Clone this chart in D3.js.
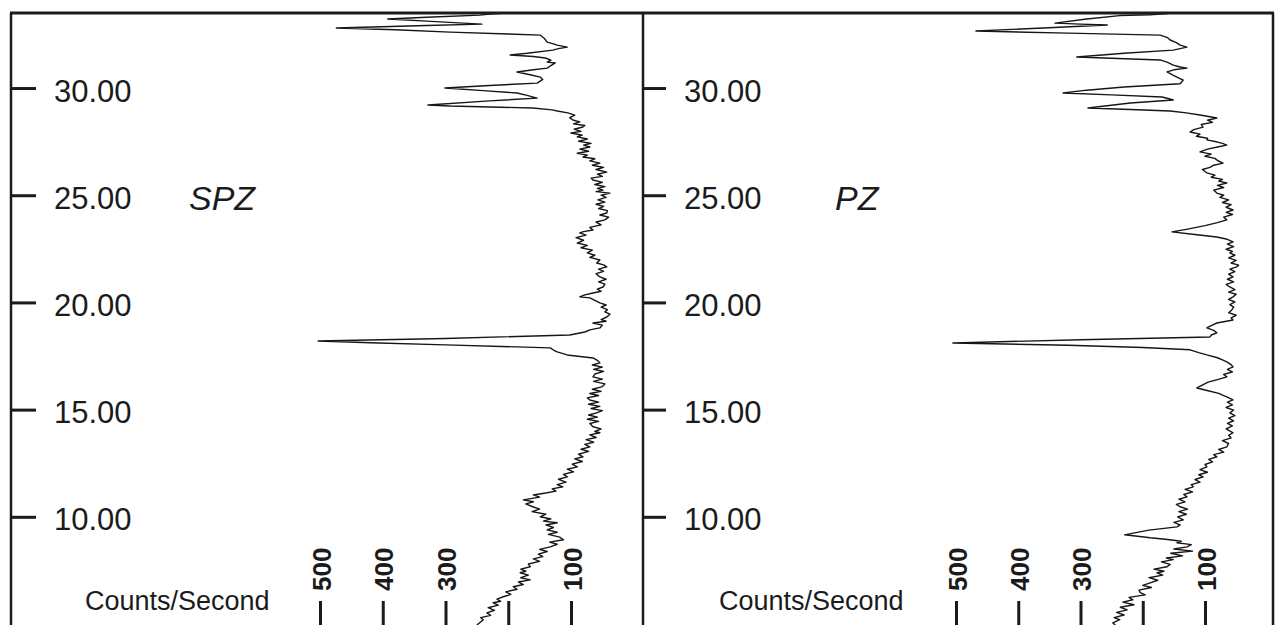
<!DOCTYPE html>
<html>
    <head>
        <meta charset="utf-8">
        <script type="text/javascript" src="https://d3js.org/d3.v7.min.js"></script>
        <style>
            html, body {
                margin: 0;
                padding: 0;
                background: #fff;
                font-family: "Liberation Sans", Arial, sans-serif;
            }
            svg text {
                fill: #1b1b1b;
            }
            svg .depth text {
                font-size: 31px;
            }
            svg .counts text {
                font-size: 26px;
                font-weight: bold;
            }
            svg .axis line {
                stroke: #1b1b1b;
                stroke-width: 3px;
            }
            svg .axis path.domain {
                display: none;
            }
            svg .trace {
                fill: none;
                stroke: #161616;
                stroke-width: 1.4px;
                stroke-linejoin: round;
            }
            svg .frame {
                stroke: #1b1b1b;
                stroke-width: 2.5px;
            }
        </style>
    </head>
    <body>
        <div id="chart"></div>

        <script>
            // tick labels
            var depthTicks = [10, 15, 20, 25, 30];
            var countTicks = [500, 400, 300, 200, 100];
            var countLabels = ["500", "400", "300", "", "100"];
            var panelNames = ["SPZ", "PZ"];
            var axisTitle = "Counts/Second";

            // SPZ log, depth (top to bottom) and counts/second
            var spzDepth = [33.50, 33.45, 33.40, 33.30, 33.22, 33.12, 32.98, 32.92, 32.80, 32.72, 32.61, 32.52, 32.47, 32.30,
                32.14, 32.06, 32.00, 31.91, 31.84, 31.77, 31.62, 31.54, 31.47, 31.40, 31.30, 31.21, 31.17, 31.05, 30.93,
                30.85, 30.75, 30.62, 30.51, 30.40, 30.23, 30.12, 30.00, 29.88, 29.77, 29.66, 29.53, 29.40, 29.21, 29.16,
                29.07, 28.98, 28.93, 28.84, 28.74, 28.62, 28.51, 28.42, 28.33, 28.25, 28.18, 28.08, 27.98, 27.90, 27.80,
                27.72, 27.62, 27.52, 27.42, 27.34, 27.25, 27.15, 27.05, 26.96, 26.87, 26.78, 26.70, 26.60, 26.50, 26.40,
                26.30, 26.20, 26.08, 25.98, 25.88, 25.80, 25.71, 25.60, 25.50, 25.40, 25.32, 25.24, 25.17, 25.10, 25.00,
                24.90, 24.78, 24.68, 24.58, 24.48, 24.38, 24.28, 24.17, 24.08, 23.98, 23.85, 23.75, 23.62, 23.50, 23.38,
                23.30, 23.24, 23.14, 23.02, 22.90, 22.77, 22.66, 22.55, 22.44, 22.31, 22.20, 22.10, 21.98, 21.84, 21.75,
                21.66, 21.55, 21.45, 21.34, 21.19, 21.08, 20.96, 20.85, 20.72, 20.62, 20.52, 20.44, 20.35, 20.26, 20.21,
                20.10, 19.98, 19.88, 19.78, 19.66, 19.56, 19.45, 19.32, 19.20, 19.12, 19.04, 18.94, 18.81, 18.72, 18.62,
                18.48, 18.32, 18.20, 18.12, 18.02, 17.88, 17.78, 17.69, 17.55, 17.41, 17.30, 17.18, 17.08, 16.98, 16.88,
                16.78, 16.66, 16.53, 16.42, 16.32, 16.20, 16.06, 15.95, 15.85, 15.75, 15.66, 15.55, 15.45, 15.35, 15.25,
                15.15, 15.05, 14.95, 14.85, 14.75, 14.65, 14.55, 14.45, 14.35, 14.20, 14.10, 13.98, 13.92, 13.82, 13.70,
                13.60, 13.48, 13.38, 13.26, 13.15, 13.05, 12.92, 12.80, 12.70, 12.58, 12.46, 12.33, 12.22, 12.10, 11.98,
                11.86, 11.75, 11.62, 11.50, 11.40, 11.30, 11.20, 11.12, 11.02, 10.92, 10.79, 10.70, 10.60, 10.47, 10.36,
                10.24, 10.12, 10.00, 9.90, 9.80, 9.72, 9.62, 9.50, 9.39, 9.28, 9.18, 9.05, 8.93, 8.82, 8.72, 8.60, 8.48,
                8.38, 8.26, 8.14, 8.04, 7.92, 7.80, 7.67, 7.56, 7.46, 7.39, 7.28, 7.16, 7.06, 6.96, 6.84, 6.74, 6.62, 6.50,
                6.38, 6.27, 6.16, 6.06, 5.99, 5.88, 5.76, 5.64, 5.52, 5.40, 5.30, 5.20, 5.05, 4.95];
            var spzCounts = [202, 230, 245, 330, 392, 330, 242, 330, 474, 380, 293, 200, 149, 142,
                138, 128, 122, 106, 120, 129, 170, 197, 160, 141, 132, 138, 125, 132, 138,
                160, 186, 165, 149, 145, 154, 230, 301, 240, 186, 170, 154, 230, 328, 293,
                161, 130, 122, 105, 94, 102, 97, 86, 96, 78, 81, 95, 84, 100, 82,
                90, 74, 88, 68, 80, 70, 86, 72, 90, 74, 81, 62, 70, 54, 66,
                48, 60, 43, 58, 50, 68, 65, 50, 62, 46, 58, 49, 60, 38, 52,
                44, 57, 46, 60, 48, 56, 42, 43, 54, 40, 46, 60, 52, 70, 65,
                80, 86, 76, 92, 80, 90, 74, 84, 66, 74, 62, 70, 54, 59, 48,
                43, 56, 48, 60, 54, 44, 56, 46, 49, 58, 52, 65, 78, 86, 70,
                62, 54, 44, 52, 42, 46, 38, 43, 52, 44, 65, 50, 54, 70, 78,
                102, 300, 503, 420, 300, 133, 128, 122, 106, 65, 58, 54, 66, 50, 64,
                48, 62, 65, 50, 64, 46, 51, 66, 52, 70, 56, 74, 70, 56, 72,
                54, 68, 50, 59, 72, 58, 74, 56, 70, 65, 52, 62, 54, 70, 60,
                76, 64, 78, 70, 84, 72, 88, 81, 94, 82, 98, 90, 106, 96, 112,
                106, 120, 108, 122, 113, 130, 124, 138, 160, 150, 176, 160, 172, 161, 150,
                162, 140, 149, 132, 144, 122, 140, 128, 138, 122, 136, 118, 112, 134, 122, 133, 150,
                138, 152, 145, 160, 150, 168, 165, 180, 172, 181, 168, 180, 165, 184, 176, 192, 186, 204,
                196, 208, 218, 212, 224, 216, 232, 222, 234, 228, 244, 240, 246, 250];

            // PZ log, depth (top to bottom) and counts/second
            var pzDepth = [33.48, 33.42, 33.38, 33.22, 33.03, 32.98, 32.94, 32.80, 32.66, 32.56, 32.47, 32.35, 32.24,
                32.12, 32.00, 31.91, 31.84, 31.77, 31.62, 31.45, 31.38, 31.31, 31.20, 31.07, 30.98, 30.93, 30.85, 30.75,
                30.58, 30.37, 30.20, 30.05, 29.90, 29.77, 29.68, 29.58, 29.50, 29.44, 29.30, 29.07, 29.00, 28.93, 28.84,
                28.74, 28.66, 28.60, 28.50, 28.40, 28.30, 28.18, 28.06, 27.95, 27.85, 27.75, 27.66, 27.58, 27.48, 27.42,
                27.34, 27.25, 27.15, 27.02, 26.92, 26.82, 26.72, 26.62, 26.50, 26.40, 26.30, 26.20, 26.04, 25.94, 25.84,
                25.74, 25.66, 25.57, 25.46, 25.36, 25.24, 25.10, 25.00, 24.90, 24.78, 24.66, 24.56, 24.44, 24.31, 24.20,
                24.10, 23.98, 23.85, 23.72, 23.58, 23.42, 23.29, 23.18, 23.05, 22.96, 22.82, 22.72, 22.60, 22.48, 22.38,
                22.31, 22.20, 22.08, 21.96, 21.84, 21.74, 21.66, 21.55, 21.44, 21.32, 21.19, 21.08, 20.96, 20.84, 20.72,
                20.60, 20.48, 20.38, 20.26, 20.14, 20.02, 19.90, 19.78, 19.65, 19.52, 19.40, 19.28, 19.18, 19.10, 19.04,
                18.92, 18.81, 18.70, 18.58, 18.48, 18.39, 18.26, 18.11, 18.00, 17.90, 17.79, 17.66, 17.55, 17.42, 17.32,
                17.23, 17.10, 16.99, 16.88, 16.76, 16.64, 16.53, 16.40, 16.28, 16.12, 16.01, 15.88, 15.76, 15.65, 15.59,
                15.45, 15.35, 15.22, 15.10, 14.98, 14.85, 14.72, 14.60, 14.48, 14.36, 14.24, 14.10, 13.92, 13.80, 13.68,
                13.55, 13.42, 13.26, 13.14, 13.02, 12.90, 12.80, 12.68, 12.56, 12.44, 12.33, 12.20, 12.08, 11.96, 11.86,
                11.74, 11.62, 11.50, 11.40, 11.28, 11.16, 11.04, 10.93, 10.82, 10.70, 10.58, 10.47, 10.36, 10.24, 10.12,
                10.00, 9.86, 9.74, 9.62, 9.53, 9.38, 9.24, 9.16, 9.08, 9.02, 8.94, 8.86, 8.79, 8.70, 8.60, 8.50, 8.40,
                8.30, 8.18, 8.08, 8.00, 7.90, 7.78, 7.67, 7.56, 7.46, 7.39, 7.28, 7.16, 7.04, 6.92, 6.80, 6.70, 6.58,
                6.46, 6.36, 6.24, 6.13, 6.02, 5.90, 5.78, 5.66, 5.54, 5.42, 5.30, 5.20, 5.05, 4.95];
            var pzCounts = [160, 188, 237, 290, 341, 300, 257, 360, 468, 320, 172, 160, 156,
                146, 140, 129, 140, 151, 230, 306, 240, 172, 160, 151, 140, 129, 150, 161,
                150, 135, 140, 230, 290, 328, 250, 169, 158, 151, 220, 288, 220, 156, 130,
                108, 92, 81, 96, 88, 106, 103, 118, 124, 108, 114, 96, 97, 80, 72,
                65, 80, 96, 108, 90, 100, 84, 80, 71, 86, 92, 104, 97, 84, 90,
                72, 78, 65, 80, 70, 86, 81, 70, 76, 62, 72, 58, 66, 55, 66,
                56, 70, 65, 80, 100, 128, 153, 120, 81, 66, 55, 64, 54, 66, 56,
                60, 52, 62, 50, 58, 46, 49, 60, 52, 62, 55, 64, 54, 66, 60,
                52, 62, 50, 55, 62, 52, 60, 54, 57, 62, 50, 58, 55, 70, 81,
                90, 97, 86, 81, 90, 92, 300, 505, 320, 200, 124, 110, 97, 80, 72,
                65, 58, 55, 64, 56, 70, 65, 80, 95, 106, 113, 95, 78, 70, 65,
                55, 64, 56, 66, 54, 60, 52, 62, 54, 64, 56, 66, 55, 62, 58,
                72, 62, 65, 78, 70, 86, 81, 94, 88, 100, 97, 108, 96, 110, 103,
                116, 108, 122, 119, 132, 120, 134, 129, 142, 132, 146, 140, 128, 142, 130,
                144, 135, 150, 140, 145, 190, 215, 229, 205, 188, 160, 138, 145, 122, 129, 150, 120,
                155, 136, 162, 151, 170, 156, 161, 182, 166, 177, 168, 190, 176, 188, 200, 186, 206,
                204, 196, 222, 216, 232, 214, 236, 225, 242, 230, 246, 237, 248, 244];

            var width = 1278, height = 625;
            var frameTop = 13, frameLeft = 11, frameMid = 643, frameRight = 1273;

            var svg = d3.select("#chart")
                .append("svg")
                    .attr("width", width)
                    .attr("height", height);

            svg.append("rect")
                .attr("width", width)
                .attr("height", height)
                .attr("fill", "#fff");

            // depth scale, shared by both panels
            var yScale = d3.scaleLinear().domain([5, 33.5]).range([624, 13]);

            var panels = [
                {name: panelNames[0], left: frameLeft, right: frameMid, depth: spzDepth, counts: spzCounts,
                 xRange: [320, 571], tick: 25, pad: 18, nameX: 189, titleX: 85},
                {name: panelNames[1], left: frameMid, right: frameRight, depth: pzDepth, counts: pzCounts,
                 xRange: [956, 1205], tick: 23, pad: 18, nameX: 835, titleX: 719}
            ];

            panels.forEach(function(p, k) {
                var xScale = d3.scaleLinear().domain([500, 100]).range(p.xRange);

                var clipId = "clip-" + k;
                svg.append("clipPath")
                    .attr("id", clipId)
                    .append("rect")
                        .attr("x", p.left)
                        .attr("y", frameTop)
                        .attr("width", p.right - p.left)
                        .attr("height", height - frameTop);

                // depth axis
                svg.append("g")
                    .attr("class", "axis depth")
                    .attr("transform", "translate(" + p.left + ",0)")
                    .call(d3.axisRight(yScale)
                        .tickValues(depthTicks)
                        .tickSize(p.tick)
                        .tickPadding(p.pad)
                        .tickFormat(d3.format(".2f")))
                    .selectAll("text")
                        .attr("dy", "0.42em")
                        .style("font-family", "'Liberation Sans', Arial, sans-serif");

                // counts axis along the bottom edge
                var bottom = svg.append("g")
                    .attr("class", "axis counts")
                    .attr("transform", "translate(0," + height + ")")
                    .call(d3.axisTop(xScale)
                        .tickValues(countTicks)
                        .tickSize(24)
                        .tickFormat(function(d, i) { return countLabels[i]; }));

                bottom.selectAll("text")
                    .attr("x", 0)
                    .attr("y", 0)
                    .attr("dy", null)
                    .attr("text-anchor", "start")
                    .attr("dominant-baseline", "central")
                    .attr("transform", "translate(1,-34) rotate(-90)")
                    .style("font-family", "'Liberation Sans', Arial, sans-serif");

                svg.append("text")
                    .attr("x", p.titleX)
                    .attr("y", 610)
                    .style("font-size", "27px")
                    .text(axisTitle);

                svg.append("text")
                    .attr("x", p.nameX)
                    .attr("y", 210)
                    .style("font-size", "34px")
                    .style("font-style", "italic")
                    .text(p.name);

                var line = d3.line()
                    .x(function(i) { return xScale(p.counts[i]); })
                    .y(function(i) { return yScale(p.depth[i]); });

                svg.append("path")
                    .attr("class", "trace")
                    .attr("clip-path", "url(#" + clipId + ")")
                    .attr("d", line(d3.range(p.depth.length)));
            });

            // frame
            svg.append("line").attr("class", "frame")
                .attr("x1", frameLeft - 1).attr("x2", frameRight + 1)
                .attr("y1", frameTop).attr("y2", frameTop)
                .style("stroke-width", "3px");
            [frameLeft, frameMid, frameRight].forEach(function(x) {
                svg.append("line").attr("class", "frame")
                    .attr("x1", x).attr("x2", x)
                    .attr("y1", frameTop).attr("y2", height);
            });
      </script>
   </body>
</html>
